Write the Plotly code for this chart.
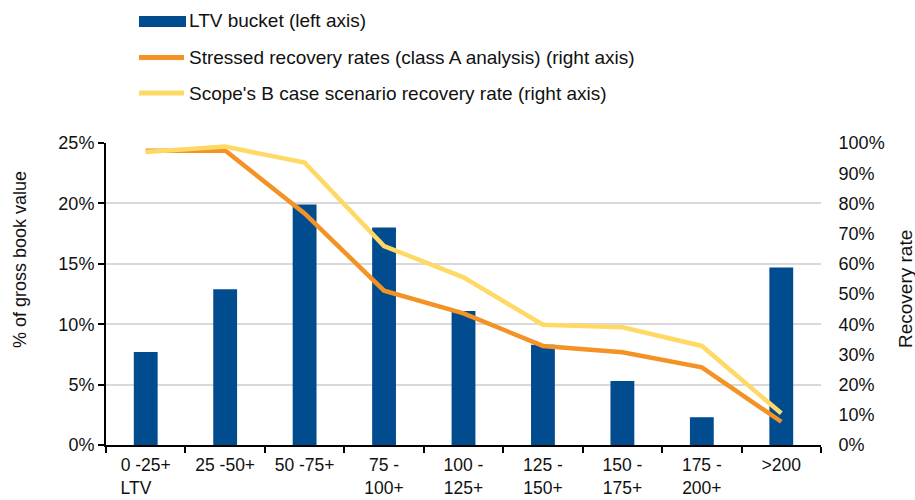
import plotly.graph_objects as go

NB = "\u00a0"
categories = ["0 -25+<br>LTV" + NB * 4, "25 -50+", "50 -75+", "75 -<br>100+", "100 -<br>125+",
              "125 -<br>150+", "150 -<br>175+", "175 -<br>200+", ">200"]
ltv_bucket = [0.077, 0.129, 0.199, 0.180, 0.111, 0.083, 0.053, 0.023, 0.147]
stressed_recovery = [0.974, 0.975, 0.767, 0.511, 0.436, 0.328, 0.307, 0.257, 0.077]
scope_b_recovery = [0.970, 0.988, 0.935, 0.659, 0.555, 0.398, 0.390, 0.328, 0.105]
legend_names = ["LTV bucket (left axis)",
                "Stressed recovery rates (class A analysis) (right axis)",
                "Scope's B case scenario recovery rate (right axis)"]
left_title = "% of gross book value"
right_title = "Recovery rate"

BLUE = "#004C8F"
ORANGE = "#F39325"
YELLOW = "#FFD966"
FONT = "Liberation Sans, Arial, sans-serif"
TXT = "#111111"

W, H = 915, 500
L, R, T, B = 106, 94, 143, 55
PW, PH = W - L - R, H - T - B

def px(x):
    return (x - L) / PW

def py(y):
    return (H - B - y) / PH

fig = go.Figure()
fig.add_trace(go.Bar(x=categories, y=ltv_bucket, name=legend_names[0],
                     marker=dict(color=BLUE, line=dict(width=0)), width=0.3,
                     yaxis="y"))
fig.add_trace(go.Scatter(x=categories, y=stressed_recovery, name=legend_names[1],
                         mode="lines", line=dict(color=ORANGE, width=4.5),
                         yaxis="y2"))
fig.add_trace(go.Scatter(x=categories, y=scope_b_recovery, name=legend_names[2],
                         mode="lines", line=dict(color=YELLOW, width=4.5),
                         yaxis="y2"))

shapes = [
    dict(type="rect", xref="paper", yref="paper", x0=px(139), x1=px(186),
         y0=py(27), y1=py(16), fillcolor=BLUE, line=dict(width=0)),
    dict(type="line", xref="paper", yref="paper", x0=px(139), x1=px(184),
         y0=py(57.5), y1=py(57.5), line=dict(color=ORANGE, width=5)),
    dict(type="line", xref="paper", yref="paper", x0=px(139), x1=px(184),
         y0=py(93), y1=py(93), line=dict(color=YELLOW, width=5)),
]
annotations = []
for name, yy in zip(legend_names, [21, 57.5, 93]):
    annotations.append(dict(text=name, xref="paper", yref="paper", x=px(187), y=py(yy),
                            xanchor="left", yanchor="middle", showarrow=False,
                            font=dict(size=19, color=TXT, family=FONT)))
annotations.append(dict(text=left_title, xref="paper", yref="paper", x=px(20), y=py(260),
                        xanchor="center", yanchor="middle", textangle=-90, showarrow=False,
                        font=dict(size=18, color=TXT, family=FONT)))
annotations.append(dict(text=right_title, xref="paper", yref="paper", x=px(905), y=py(289),
                        xanchor="center", yanchor="middle", textangle=-90, showarrow=False,
                        font=dict(size=19, color=TXT, family=FONT)))

fig.update_layout(
    width=W, height=H,
    margin=dict(l=L, r=R, t=T, b=B, autoexpand=False),
    paper_bgcolor="white", plot_bgcolor="white",
    font=dict(family=FONT, size=17, color=TXT),
    showlegend=False,
    shapes=shapes,
    annotations=annotations,
    xaxis=dict(type="category", tickson="boundaries", ticks="outside", ticklen=6,
               tickcolor="black", tickwidth=1.5, showline=True, linecolor="black",
               linewidth=2, showgrid=False, tickfont=dict(size=17.5), tickangle=0,
               ticklabelstandoff=3, automargin=False),
    yaxis=dict(range=[0, 0.25], dtick=0.05, tickformat=".0%", ticks="outside",
               ticklen=6, tickcolor="black", tickwidth=1.5, showline=True,
               linecolor="black", linewidth=2, showgrid=True, gridcolor="#D9D9D9",
               gridwidth=1.5, zeroline=False, tickfont=dict(size=18), automargin=False),
    yaxis2=dict(range=[0, 1], dtick=0.1, tickformat=".0%", overlaying="y", side="right",
                showgrid=False, showline=False, zeroline=False, ticks="outside",
                ticklen=13, tickcolor="rgba(0,0,0,0)", tickfont=dict(size=18),
                automargin=False),
)

fig.write_html("out.html",
               config={"displayModeBar": False},
               post_script="document.body.style.margin='0';document.body.style.overflow='hidden';")
